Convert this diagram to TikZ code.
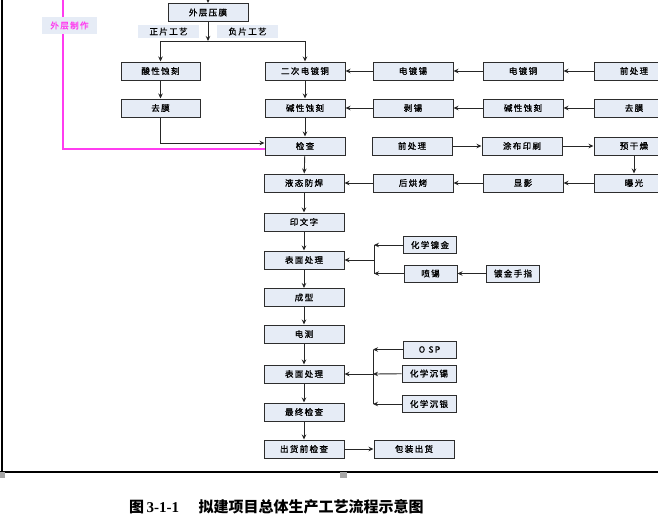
\documentclass[tikz,border=0pt]{standalone}
\usepackage{fontspec}
\setmainfont{Liberation Serif}
\newfontfamily\cjk{Noto Sans CJK SC}
\newfontfamily\cjkls[LetterSpace=16,FakeBold=1.2]{Noto Sans CJK SC}
\usetikzlibrary{arrows.meta}
\definecolor{boxfill}{RGB}{230,236,246}
\definecolor{boxline}{RGB}{45,45,45}
\definecolor{pinkline}{RGB}{255,60,240}
\tikzset{
  pbox/.style={draw=boxline, fill=boxfill, line width=1pt, minimum width=80pt, minimum height=18pt, inner sep=0pt, font=\fontsize{8.5}{9}\cjkls},
  sbox/.style={pbox, minimum width=53pt, minimum height=17pt},
  lbl/.style={fill=boxfill, inner sep=0pt, minimum width=61pt, minimum height=13pt, font=\fontsize{8.5}{9}\cjkls},
  arr/.style={-{Stealth[length=5pt,width=4.5pt]}, line width=0.9pt, draw=black!85},
  ln/.style={line width=0.9pt, draw=black!85},
}
\begin{document}
\begin{tikzpicture}[x=1pt,y=-1pt]
\useasboundingbox (0,0) rectangle (658,523);
% frame
\draw[line width=2pt] (2,0) -- (2,472);
\draw[line width=2pt] (0,472) -- (658,472);
\fill[gray!70] (0,472) rectangle (5,478);
\fill[gray!70] (340,472) rectangle (347,478);
% top
\coordinate (top) at (208,0);
\node[pbox] (ycm) at (208,12.5) {外层压膜};
\node[lbl] (zp) at (168.5,31.5) {正片工艺};
\node[lbl] (fp) at (247.5,31.5) {负片工艺};
\coordinate (br) at (208,41);
\coordinate (brl) at (160.5,41);
\coordinate (brr) at (305,41);
% left column
\node[pbox, minimum width=79pt] (sxsk) at (160.5,71) {酸性蚀刻};
\node[pbox, minimum width=79pt] (qm1) at (160.5,108) {去膜};
% main column
\node[pbox] (ecdd) at (305,71) {二次电镀铜};
\node[pbox] (jxsk1) at (305,108) {碱性蚀刻};
\node[pbox] (jc) at (305,146) {检查};
\node[pbox] (ytfh) at (304,183) {液态防焊};
\node[pbox] (ywz) at (304,222) {印文字};
\node[pbox] (bm1) at (304,260) {表面处理};
\node[pbox] (cx) at (304,297.5) {成型};
\node[pbox] (dc) at (304,334) {电测};
\node[pbox] (bm2) at (304,374) {表面处理};
\node[pbox] (zz) at (304,412) {最终检查};
\node[pbox] (chq) at (304,449) {出货前检查};
\node[pbox] (bz) at (414,449) {包装出货};
% right rows
\node[pbox] (ddx) at (413,71) {电镀锡};
\node[pbox] (ddt) at (523,71) {电镀铜};
\node[pbox] (qcl1) at (634,71) {前处理};
\node[pbox] (bx) at (413,108) {剥锡};
\node[pbox] (jxsk2) at (523,108) {碱性蚀刻};
\node[pbox] (qm2) at (634,108) {去膜};
\node[pbox] (qcl2) at (412,146) {前处理};
\node[pbox] (tb) at (522,146) {涂布印刷};
\node[pbox] (ygz) at (634,146) {预干燥};
\node[pbox] (hhk) at (413,183) {后烘烤};
\node[pbox] (xy) at (523,183) {显影};
\node[pbox] (bg) at (634,183) {曝光};
% surface treatment 1
\node[sbox] (hxnj) at (430,245) {化学镍金};
\node[sbox] (px) at (430.5,273.5) {喷锡};
\node[sbox] (djsz) at (513,273.5) {镀金手指};
\coordinate (j1) at (374,260);
\coordinate (j1a) at (374,245);
\coordinate (j1b) at (374,273.5);
% surface treatment 2
\node[sbox] (osp) at (429.5,349.5) {O SP};
\node[sbox, minimum width=54pt] (hxcx) at (429,373.5) {化学沉锡};
\node[sbox, minimum width=54pt] (hxcy) at (429,404) {化学沉银};
\coordinate (j2) at (373,374);
\coordinate (j2a) at (373,349.5);
\coordinate (j2b) at (373,404);
% outer-layer label and pink line
\coordinate (pk0) at (63,0);
\coordinate (pk1) at (63,149);
\draw[draw=pinkline, line width=1.5pt] (pk0) -- (pk1) -- (pk1 -| jc.west);
\node[lbl, minimum width=55pt, minimum height=17pt, text=pinkline] (wczz) at (69.5,25.5) {外层制作};
% connectors
\draw[arr] (top) -- (ycm.north);
\draw[arr] (ycm.south) -- (br);
\draw[ln] (brl) -- (brr);
\draw[arr] (brl) -- (sxsk.north);
\draw[arr] (brr) -- (ecdd.north);
\draw[arr] (sxsk) -- (qm1);
\draw[arr] (ecdd) -- (jxsk1);
\draw[arr] (jxsk1) -- (jc);
\coordinate (qmc) at (160.5,143);
\draw[arr] (qm1.south) -- (qmc) -- (qmc -| jc.west);
\draw[arr] (qcl1) -- (ddt);
\draw[arr] (ddt) -- (ddx);
\draw[arr] (ddx) -- (ecdd);
\draw[arr] (qm2) -- (jxsk2);
\draw[arr] (jxsk2) -- (bx);
\draw[arr] (bx) -- (jxsk1);
\draw[arr] (qcl2) -- (tb);
\draw[arr] (tb) -- (ygz);
\draw[arr] (ygz) -- (bg);
\draw[arr] (bg) -- (xy);
\draw[arr] (xy) -- (hhk);
\draw[arr] (hhk) -- (ytfh);
\draw[arr] (jc) -- (ytfh);
\draw[arr] (ytfh) -- (ywz);
\draw[arr] (ywz) -- (bm1);
\draw[arr] (bm1) -- (cx);
\draw[arr] (cx) -- (dc);
\draw[arr] (dc) -- (bm2);
\draw[arr] (bm2) -- (zz);
\draw[arr] (zz) -- (chq);
\draw[arr] (chq) -- (bz);
\draw[ln] (j1a) -- (j1b);
\draw[arr] (hxnj) -- (j1a);
\draw[arr] (px) -- (j1b);
\draw[arr] (djsz) -- (px);
\draw[arr] (j1) -- (bm1.east);
\draw[ln] (j2a) -- (j2b);
\draw[arr] (osp) -- (j2a);
\draw[arr] (hxcx) -- (j2);
\draw[arr] (hxcy) -- (j2b);
\draw[arr] (j2) -- (bm2.east);
% caption
\node[font=\fontsize{15}{16}\selectfont\bfseries, anchor=west, inner sep=0pt] (cap) at (129,507) {{\cjk\bfseries 图}\,3-1-1\hspace{1.3em}{\cjk\bfseries 拟建项目总体生产工艺流程示意图}};
\end{tikzpicture}
\end{document}
